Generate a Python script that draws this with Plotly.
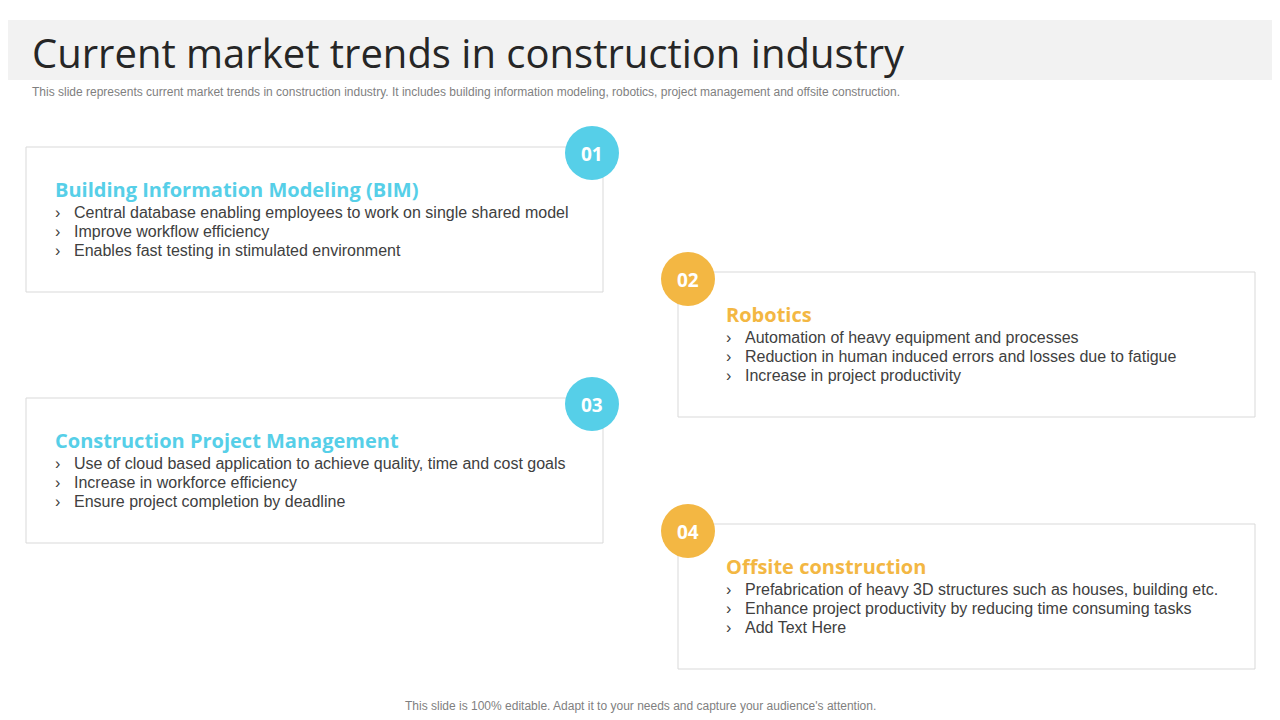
import plotly.graph_objects as go

numbers = ["01", "02", "03", "04"]
titles = [
    "Building Information Modeling (BIM)",
    "Robotics",
    "Construction Project Management",
    "Offsite construction",
]
bullets = [
    ["Central database enabling employees to work on single shared model",
     "Improve workflow efficiency",
     "Enables fast testing in stimulated environment"],
    ["Automation of heavy equipment and processes",
     "Reduction in human induced errors and losses due to fatigue",
     "Increase in project productivity"],
    ["Use of cloud based application to achieve quality, time and cost goals",
     "Increase in workforce efficiency",
     "Ensure project completion by deadline"],
    ["Prefabrication of heavy 3D structures such as houses, building etc.",
     "Enhance project productivity by reducing time consuming tasks",
     "Add Text Here"],
]

CYAN = "#56CFE8"
ORANGE = "#F3B743"
colors = [CYAN, ORANGE, CYAN, ORANGE]
# box top-left corners in pixels
boxes = [(26, 147), (678, 272), (26, 398), (678, 524)]
BW, BH = 577, 145

fig = go.Figure()
shapes = [dict(type="rect", x0=0, x1=1290, y0=20, y1=80,
               fillcolor="#F2F2F2", line_width=0, layer="below")]
ann = []


def txt(x, y, s, size, color, bold=False, anchor="left", family="Arial"):
    ann.append(dict(x=x, y=y, text=f"<b>{s}</b>" if bold else s,
                    xanchor=anchor, yanchor="middle", showarrow=False,
                    font=dict(size=size, color=color, family=family)))


txt(30, 52, "Current market trends in construction industry", 40, "#262626",
    family="Open Sans")
txt(30, 92, "This slide represents current market trends in construction industry. "
    "It includes building information modeling, robotics, project management "
    "and offsite construction.", 12, "#7F7F7F")
txt(640, 706, "This slide is 100% editable. Adapt it to your needs and capture "
    "your audience's attention.", 12, "#7F7F7F", anchor="center")

for i, (bx, by) in enumerate(boxes):
    shapes.append(dict(type="rect", x0=bx, x1=bx + BW, y0=by, y1=by + BH,
                       fillcolor="white", line=dict(color="#D9D9D9", width=1)))
    if i % 2 == 0:
        cx, cy, tx = bx + 566, by + 6, bx + 27
    else:
        cx, cy, tx = bx + 10, by + 7, bx + 46
    shapes.append(dict(type="circle", x0=cx - 27, x1=cx + 27, y0=cy - 27,
                       y1=cy + 27, fillcolor=colors[i], line_width=0))
    txt(cx, cy + 1, numbers[i], 19, "white", bold=True, anchor="center",
        family="Open Sans")
    txt(tx, by + 42, titles[i], 20, colors[i], bold=True, family="Open Sans")
    for j, b in enumerate(bullets[i]):
        txt(tx, by + 65 + 19 * j, "›", 16, "#404040")
        txt(tx + 19, by + 65 + 19 * j, b, 16, "#404040")

# page body adds an 8px offset, so shift the visible window to compensate
fig.update_layout(
    width=1280, height=720, margin=dict(l=0, r=0, t=0, b=0),
    paper_bgcolor="white", plot_bgcolor="white", showlegend=False,
    xaxis=dict(range=[8, 1288], visible=False, fixedrange=True),
    yaxis=dict(range=[728, 8], visible=False, fixedrange=True),
    shapes=shapes, annotations=ann,
)
fig.write_html("out.html")
